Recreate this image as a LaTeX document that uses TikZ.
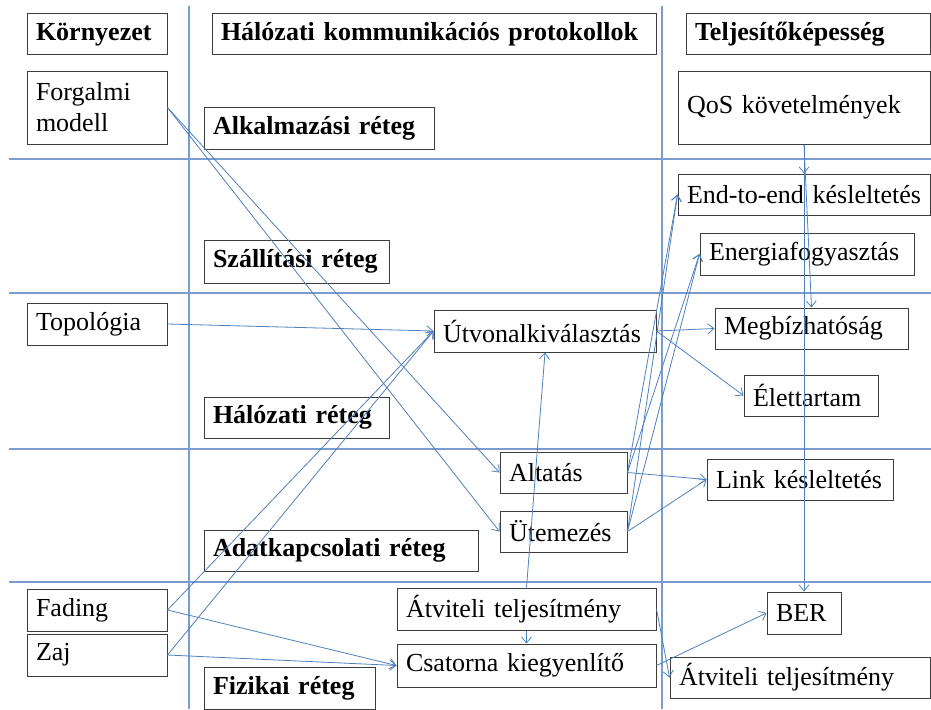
\documentclass[tikz,border=0pt]{standalone}
\usepackage{fontspec}
\setmainfont{Liberation Serif}
\usetikzlibrary{arrows.meta}
\definecolor{gridc}{RGB}{122,156,206}
\definecolor{conc}{RGB}{79,129,189}
\definecolor{boxc}{RGB}{60,60,60}
\tikzset{
  box/.style={draw=boxc, line width=1pt, fill=white, inner xsep=9pt, inner ysep=0pt,
    align=left, font=\fontsize{26}{31}\selectfont},
  hd/.style={font=\fontsize{26}{31}\selectfont\bfseries},
  nm/.style={},
  gridline/.style={draw=gridc, line width=1.3pt},
  con/.style={draw=conc, line width=0.8pt, -{Straight Barb[length=6pt,width=10pt]}},
}
\newcommand\bx[7]{%
  \pgfmathsetmacro\bw{#5-#3}%
  \pgfmathsetmacro\bh{#6-#4}%
  \pgfmathsetmacro\tw{#5-#3-18}%
  \pgfmathsetmacro\cx{(#3+#5)/2}%
  \pgfmathsetmacro\cy{(#4+#6)/2}%
  \node[box,#1,minimum width=\bw pt,minimum height=\bh pt,text width=\tw pt] (#2) at (\cx,\cy) {#7};}
\begin{document}
\begin{tikzpicture}[x=1pt,y=-1pt]
\fill[white] (0,0) rectangle (931,709);
\useasboundingbox (0,0) rectangle (931,709);
% grid
\draw[gridline] (189,6) -- (189,709);
\draw[gridline] (662,6) -- (662,709);
\draw[gridline] (9,159) -- (931,159);
\draw[gridline] (9,293) -- (931,293);
\draw[gridline] (9,449) -- (931,449);
\draw[gridline] (9,582) -- (931,582);
% headers
\bx{hd}{kor}{27}{14}{167}{55}{\mbox{Környezet}}
\bx{hd}{hal}{212}{14}{656}{55}{\mbox{Hálózati kommunikációs protokollok}}
\bx{hd}{tel}{686}{14}{930}{55}{\mbox{Teljesítőképesség}}
% environment
\bx{nm}{forg}{27}{71}{167}{144}{Forgalmi\\modell}
\bx{nm}{topo}{27}{303}{167}{345}{\mbox{Topológia}}
\bx{nm}{fad}{27}{589}{167}{631}{\mbox{Fading}}
\bx{nm}{zaj}{27}{634}{167}{676}{\mbox{Zaj}}
% layers
\bx{hd}{alk}{204}{107}{434}{149}{\mbox{Alkalmazási réteg}}
\bx{hd}{szal}{204}{240}{389}{283}{\mbox{Szállítási réteg}}
\bx{hd}{halr}{204}{397}{389}{438}{\mbox{Hálózati réteg}}
\bx{hd}{adat}{204}{530}{478}{571}{\mbox{Adatkapcsolati réteg}}
\bx{hd}{fiz}{204}{667}{375}{709}{\mbox{Fizikai réteg}}
% protocol functions
\bx{nm}{utv}{434}{310}{656}{352}{\mbox{Útvonalkiválasztás}}
\bx{nm}{alt}{500}{452}{627}{493}{\mbox{Altatás}}
\bx{nm}{ute}{500}{511}{627}{552}{\mbox{Ütemezés}}
\bx{nm}{atv}{397}{588}{656}{630}{\mbox{Átviteli teljesítmény}}
\bx{nm}{csat}{397}{644}{656}{687}{\mbox{Csatorna kiegyenlítő}}
% performance
\bx{nm}{qos}{678}{71}{930}{144}{\mbox{QoS követelmények}}
\bx{nm}{e2e}{678}{174}{930}{215}{\mbox{End-to-end késleltetés}}
\bx{nm}{ener}{700}{233}{914}{275}{\mbox{Energiafogyasztás}}
\bx{nm}{meg}{715}{308}{908}{349}{\mbox{Megbízhatóság}}
\bx{nm}{elet}{744}{375}{878}{416}{\mbox{Élettartam}}
\bx{nm}{link}{707}{459}{893}{500}{\mbox{Link késleltetés}}
\bx{nm}{ber}{767}{592}{841}{634}{\mbox{BER}}
\bx{nm}{atvr}{670}{657}{930}{698}{\mbox{Átviteli teljesítmény}}
% connectors
\draw[con] (forg.east) -- (alt.west);
\draw[con] (forg.east) -- (ute.west);
\draw[con] (topo.east) -- (utv.west);
\draw[con] (fad.east) -- (utv.west);
\draw[con] (zaj.east) -- (utv.west);
\draw[con] (fad.east) -- (csat.west);
\draw[con] (zaj.east) -- (csat.west);
\draw[con] (atv.north) -- (utv.south);
\draw[con] (atv.south) -- (csat.north);
\draw[con] (atv.east) -- (atvr.west);
\draw[con] (csat.east) -- (ber.west);
\draw[con] (qos.south) -- (e2e.north);
\draw[con] (qos.south) -- (meg.north);
\draw[con] (qos.south) -- (ber.north);
\draw[con] (utv.east) -- (meg.west);
\draw[con] (utv.east) -- (elet.west);
\draw[con] (alt.east) -- (link.west);
\draw[con] (ute.east) -- (link.west);
\draw[con] (alt.east) -- (e2e.west);
\draw[con] (alt.east) -- (ener.west);
\draw[con] (ute.east) -- (e2e.west);
\draw[con] (ute.east) -- (ener.west);
\end{tikzpicture}
\end{document}
